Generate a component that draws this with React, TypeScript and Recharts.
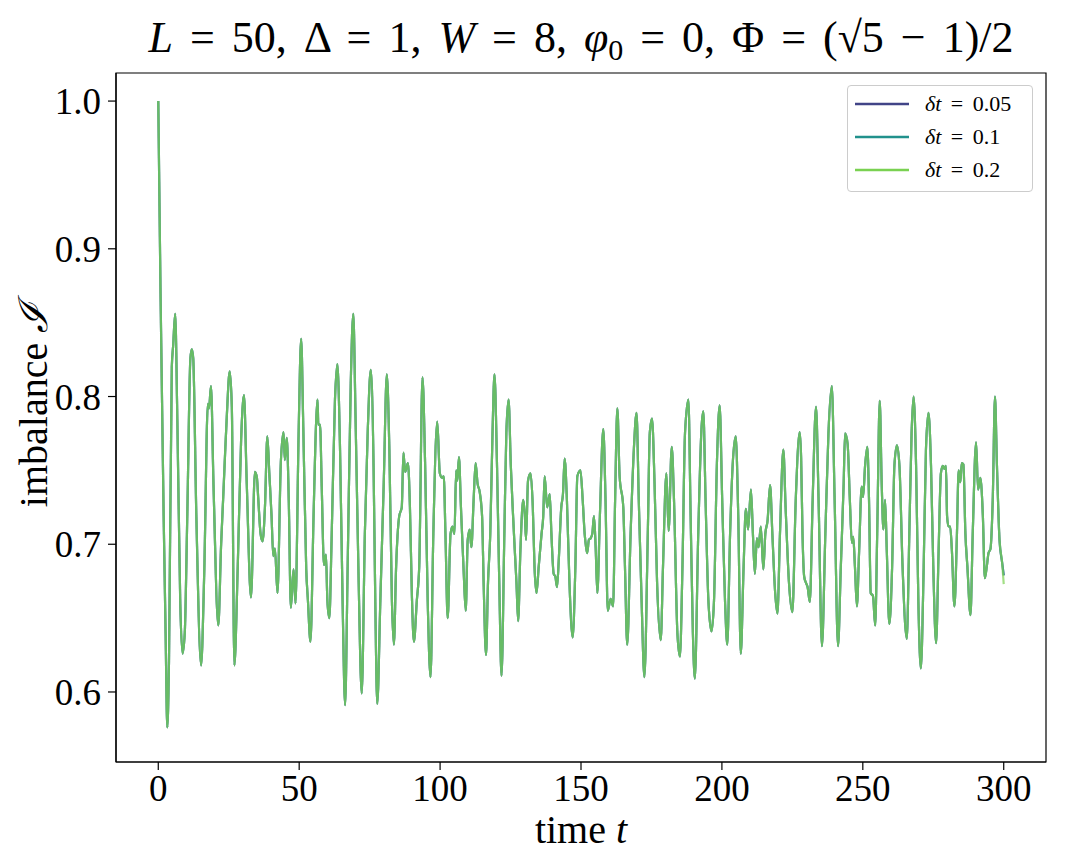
import React from 'react';
import { LineChart, Line, XAxis, YAxis, ReferenceArea } from 'recharts';

const times = [
  0, 0.8, 1.9, 2.6, 3.2, 3.8, 4.8, 5.3, 6.0, 6.8, 7.8, 8.6, 9.4, 10.3, 11.4, 11.9, 12.4, 13.5, 15.2, 16.3,
  17.6, 18.0, 18.7, 19.6, 21.3, 22.3, 23.0, 23.7, 24.3, 25.35, 26.1, 27.0, 28.2, 29.4, 30.4, 31.4, 32.9, 34.3, 35.0, 35.5,
  36.3, 37.0, 37.85, 38.7, 39.4, 40.2, 40.8, 41.4, 42.3, 43.5, 44.45, 44.9, 45.6, 46.3, 47.05, 48.0, 48.7, 49.8, 50.7, 51.5,
  52.5, 53.1, 54.0, 55.1, 56.0, 56.5, 56.8, 57.4, 58.0, 58.8, 59.5, 60.0, 60.7, 61.5, 62.7, 63.55, 64.5, 65.4, 66.3, 67.2,
  68.3, 69.2, 70.0, 71.0, 72.2, 73.3, 74.3, 75.4, 76.4, 77.0, 77.7, 78.8, 80.0, 81.1, 82.0, 82.9, 83.6, 84.4, 85.5, 86.4,
  87.0, 87.6, 88.6, 89.3, 90.0, 90.7, 91.75, 92.6, 93.75, 94.7, 95.6, 96.6, 97.6, 99.0, 99.9, 100.7, 101.3, 101.9, 102.7, 103.7,
  104.4, 105.1, 105.7, 106.1, 106.7, 107.4, 108.4, 109.1, 109.8, 110.5, 111.1, 111.9, 112.6, 113.3, 114.0, 114.9, 115.45, 116.3, 117.0, 117.8,
  118.6, 119.3, 120.2, 121.0, 121.8, 122.8, 123.5, 124.3, 125.1, 125.8, 126.5, 127.1, 127.7, 128.5, 129.5, 130.1, 130.5, 131.2, 132.1, 132.9,
  133.5, 134.2, 135.0, 136.0, 136.6, 137.1, 138.0, 138.9, 139.5, 140.3, 140.9, 141.5, 142.1, 143.0, 143.6, 144.2, 145.0, 145.9, 147.05, 148.0,
  148.7, 149.8, 150.6, 151.3, 151.8, 152.2, 152.8, 153.4, 154.0, 154.6, 155.2, 155.8, 156.7, 157.9, 158.7, 159.5, 160.5, 161.4, 162.1, 162.9,
  163.7, 165.0, 165.6, 166.4, 167.6, 168.75, 169.7, 170.5, 171.5, 172.5, 173.7, 174.4, 175.2, 176.1, 177.0, 178.3, 179.1, 180.3, 181.1, 182.2,
  183.0, 184.2, 185.1, 186.0, 186.9, 188.1, 188.9, 189.7, 190.4, 191.6, 192.8, 193.4, 194.2, 195.2, 196.3, 197.2, 198.2, 199.2, 200.1, 201.1,
  201.9, 202.9, 203.8, 204.9, 205.8, 206.7, 207.7, 208.5, 209.3, 210.3, 211.0, 211.7, 212.4, 213.0, 213.8, 214.7, 215.4, 216.2, 217.1, 217.9,
  218.9, 219.7, 220.6, 221.8, 222.6, 223.8, 225.0, 226.2, 227.6, 228.1, 228.6, 229.2, 229.8, 230.4, 231.2, 232.2, 233.4, 234.3, 235.5, 236.7,
  237.8, 239.0, 240.0, 241.2, 242.2, 243.2, 243.7, 244.6, 245.4, 246.1, 246.6, 247.2, 247.9, 248.7, 249.6, 250.1, 250.8, 251.6, 252.2, 252.8,
  253.6, 254.4, 255.1, 256.0, 256.7, 257.3, 257.9, 258.5, 259.4, 260.4, 261.2, 262.1, 263.0, 264.1, 265.6, 266.5, 267.3, 268.0, 268.9, 269.7,
  270.6, 271.6, 272.4, 273.3, 274.2, 275.0, 276.0, 276.9, 277.7, 278.4, 279.0, 279.5, 279.9, 280.4, 281.0, 281.6, 282.5, 283.4, 284.0, 284.6,
  285.1, 285.7, 286.4, 287.1, 288.2, 289.0, 290.2, 290.9, 291.7, 292.6, 293.3, 294.0, 294.6, 295.3, 296.1, 296.9, 297.6, 298.5, 299.4, 300.0,
];

const imbalanceDt005 = [
  1.0, 0.87, 0.72, 0.64, 0.576, 0.62, 0.82, 0.835, 0.856, 0.78, 0.66, 0.626, 0.64, 0.72, 0.826, 0.832, 0.826, 0.72, 0.618, 0.68,
  0.795, 0.792, 0.807, 0.74, 0.645, 0.70, 0.73, 0.761, 0.786, 0.817, 0.793, 0.618, 0.685, 0.771, 0.801, 0.741, 0.664, 0.749, 0.745, 0.730,
  0.707, 0.702, 0.725, 0.773, 0.748, 0.719, 0.692, 0.697, 0.667, 0.756, 0.776, 0.757, 0.772, 0.730, 0.657, 0.683, 0.660, 0.775, 0.839, 0.775,
  0.683, 0.662, 0.634, 0.719, 0.782, 0.798, 0.781, 0.781, 0.739, 0.686, 0.693, 0.662, 0.650, 0.703, 0.798, 0.822, 0.764, 0.662, 0.591, 0.685,
  0.809, 0.856, 0.786, 0.685, 0.599, 0.707, 0.775, 0.818, 0.752, 0.662, 0.592, 0.662, 0.741, 0.815, 0.764, 0.662, 0.632, 0.685, 0.719, 0.725,
  0.762, 0.749, 0.755, 0.725, 0.665, 0.634, 0.662, 0.685, 0.813, 0.753, 0.662, 0.610, 0.707, 0.783, 0.748, 0.745, 0.746, 0.707, 0.650, 0.707,
  0.712, 0.707, 0.750, 0.743, 0.759, 0.725, 0.680, 0.655, 0.703, 0.710, 0.698, 0.730, 0.755, 0.741, 0.736, 0.719, 0.674, 0.625, 0.674, 0.707,
  0.775, 0.815, 0.753, 0.674, 0.611, 0.707, 0.775, 0.798, 0.753, 0.723, 0.696, 0.674, 0.648, 0.696, 0.730, 0.719, 0.703, 0.743, 0.748, 0.725,
  0.685, 0.667, 0.685, 0.707, 0.719, 0.746, 0.725, 0.734, 0.707, 0.680, 0.678, 0.671, 0.689, 0.725, 0.734, 0.758, 0.730, 0.674, 0.637, 0.685,
  0.746, 0.750, 0.730, 0.707, 0.698, 0.694, 0.703, 0.704, 0.707, 0.719, 0.698, 0.667, 0.719, 0.778, 0.730, 0.655, 0.663, 0.658, 0.730, 0.792,
  0.746, 0.725, 0.685, 0.632, 0.707, 0.764, 0.789, 0.730, 0.662, 0.610, 0.707, 0.775, 0.785, 0.741, 0.674, 0.635, 0.685, 0.748, 0.709, 0.766,
  0.730, 0.640, 0.624, 0.685, 0.775, 0.798, 0.719, 0.640, 0.609, 0.707, 0.780, 0.790, 0.730, 0.662, 0.641, 0.662, 0.753, 0.794, 0.730, 0.662,
  0.632, 0.707, 0.753, 0.773, 0.719, 0.626, 0.685, 0.724, 0.710, 0.737, 0.707, 0.680, 0.704, 0.698, 0.712, 0.683, 0.707, 0.716, 0.740, 0.707,
  0.667, 0.653, 0.707, 0.764, 0.725, 0.674, 0.654, 0.730, 0.776, 0.759, 0.707, 0.678, 0.674, 0.671, 0.661, 0.730, 0.793, 0.730, 0.631, 0.707,
  0.775, 0.807, 0.730, 0.631, 0.685, 0.741, 0.775, 0.768, 0.730, 0.701, 0.705, 0.685, 0.658, 0.696, 0.739, 0.732, 0.753, 0.766, 0.730, 0.667,
  0.665, 0.645, 0.707, 0.797, 0.741, 0.710, 0.730, 0.696, 0.646, 0.685, 0.753, 0.767, 0.753, 0.685, 0.636, 0.707, 0.775, 0.800, 0.753, 0.662,
  0.616, 0.685, 0.764, 0.789, 0.753, 0.685, 0.633, 0.696, 0.748, 0.753, 0.751, 0.753, 0.719, 0.712, 0.712, 0.696, 0.658, 0.707, 0.750, 0.742,
  0.755, 0.754, 0.707, 0.685, 0.652, 0.707, 0.769, 0.737, 0.745, 0.719, 0.677, 0.685, 0.694, 0.697, 0.730, 0.800, 0.753, 0.703, 0.688, 0.679,
];

// The three runs are indistinguishable on the picture except at the very end
const imbalanceDt01 = imbalanceDt005;
const imbalanceDt02 = [...imbalanceDt005.slice(0, -1), 0.673];

const seriesNames = ['\u03b4t = 0.05', '\u03b4t = 0.1', '\u03b4t = 0.2'];
const seriesKeys = ['dt005', 'dt01', 'dt02'];
const seriesColors = ['#414487', '#21918c', '#7ad151'];

const xTicks = [0, 50, 100, 150, 200, 250, 300];
const yTicks = [0.6, 0.7, 0.8, 0.9, 1.0];

const data = times.map((t, i) => ({
  t,
  dt005: imbalanceDt005[i],
  dt01: imbalanceDt01[i],
  dt02: imbalanceDt02[i],
}));

const FONT = '"Liberation Serif", "DejaVu Serif", serif';
const X_DOMAIN: [number, number] = [-15, 315];
const Y_DOMAIN: [number, number] = [0.5526, 1.019];

const LegendBox = () => (
  <div
    style={{
      position: 'absolute',
      left: 847,
      top: 85,
      width: 186,
      height: 107,
      border: '1px solid #cccccc',
      borderRadius: 4,
      background: 'rgba(255,255,255,0.8)',
      boxSizing: 'border-box',
      paddingTop: 1,
    }}
  >
    {seriesNames.map((name, i) => (
      <div key={name} style={{ display: 'flex', alignItems: 'center', height: 33 }}>
        <svg width={70} height={10} style={{ marginLeft: 7, flex: 'none' }}>
          <line x1={0} y1={5} x2={54} y2={5} stroke={seriesColors[i]} strokeWidth={2.6} />
        </svg>
        <span style={{ fontFamily: FONT, fontSize: 22, color: '#000', wordSpacing: 4, whiteSpace: 'nowrap' }}>
          <i>{'\u03b4t'}</i>
          {name.slice(2)}
        </span>
      </div>
    ))}
  </div>
);

export default function App() {
  return (
    <div style={{ position: 'absolute', left: 0, top: 0, width: 1068, height: 867, background: '#fff' }}>
      <LineChart
        width={1068}
        height={867}
        data={data}
        margin={{ top: 73, right: 22, left: 0, bottom: 45 }}
      >
        <XAxis
          dataKey="t"
          type="number"
          domain={X_DOMAIN}
          ticks={xTicks}
          allowDataOverflow
          height={60}
          tickSize={8}
          tickMargin={5}
          stroke="#000"
          tick={{ fill: '#000', fontFamily: FONT, fontSize: 37 }}
          tickLine={{ stroke: '#000', strokeWidth: 1.2 }}
          axisLine={{ stroke: '#000', strokeWidth: 1.2 }}
        />
        <YAxis
          type="number"
          domain={Y_DOMAIN}
          ticks={yTicks}
          allowDataOverflow
          width={116}
          tickSize={8}
          tickMargin={7}
          tickFormatter={(v: number) => v.toFixed(1)}
          tick={{ fill: '#000', fontFamily: FONT, fontSize: 37 }}
          tickLine={{ stroke: '#000', strokeWidth: 1.2 }}
          axisLine={{ stroke: '#000', strokeWidth: 1.2 }}
        />
        <ReferenceArea
          x1={X_DOMAIN[0]}
          x2={X_DOMAIN[1]}
          y1={Y_DOMAIN[0]}
          y2={Y_DOMAIN[1]}
          fill="none"
          stroke="#000"
          strokeWidth={1.2}
          fillOpacity={0}
          ifOverflow="visible"
        />
        {seriesKeys.map((k, i) => (
          <Line
            key={k}
            dataKey={k}
            name={seriesNames[i]}
            type="monotone"
            stroke={seriesColors[i]}
            strokeOpacity={0.7}
            strokeWidth={2.2}
            dot={false}
            isAnimationActive={false}
          />
        ))}
      </LineChart>
      <LegendBox />
      <svg width={1068} height={867} style={{ position: 'absolute', left: 0, top: 0, pointerEvents: 'none' }}>
        <text x={581} y={52} textAnchor="middle" fontFamily={FONT} fontSize={44} fill="#000" wordSpacing={6}>
          <tspan fontStyle="italic">L</tspan>
          <tspan> = 50, Δ = 1, </tspan>
          <tspan fontStyle="italic">W</tspan>
          <tspan> = 8, </tspan>
          <tspan fontStyle="italic">φ</tspan>
          <tspan fontSize={30} dy={8}>0</tspan>
          <tspan dy={-8}> = 0, Φ = (√</tspan>
          <tspan>5</tspan>
          <tspan> − 1)/2</tspan>
        </text>
        <text x={581} y={843} textAnchor="middle" fontFamily={FONT} fontSize={40} fill="#000">
          time <tspan fontStyle="italic">t</tspan>
        </text>
        <text
          x={0}
          y={0}
          transform="translate(47,405) rotate(-90)"
          textAnchor="middle"
          fontFamily={FONT}
          fontSize={40}
          fill="#000"
        >
          imbalance <tspan fontStyle="italic">ℐ</tspan>
        </text>
      </svg>
    </div>
  );
}
